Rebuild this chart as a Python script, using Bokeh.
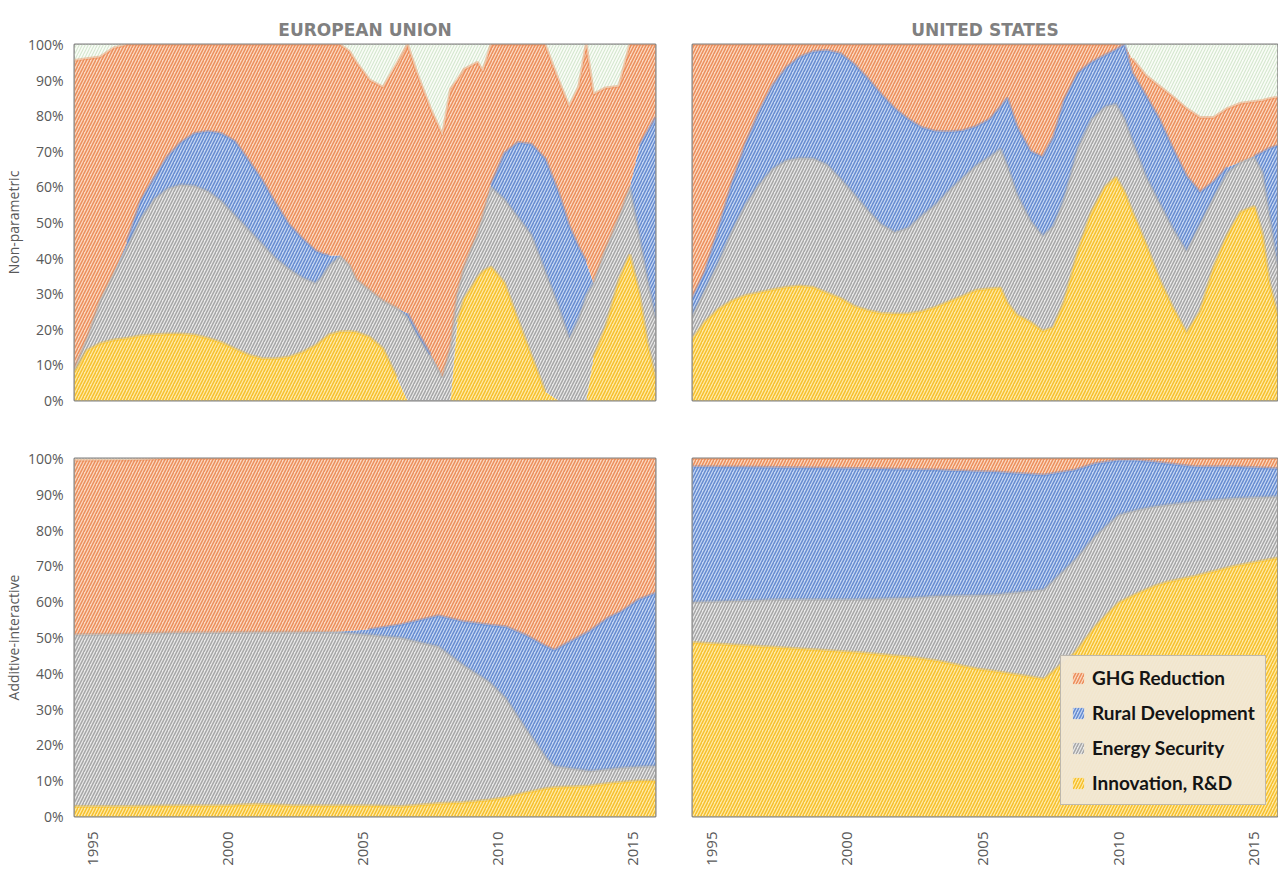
import math
import numpy as np
from bokeh.plotting import figure
from bokeh.layouts import gridplot
from bokeh.models import Range1d, FixedTicker, PrintfTickFormatter, Legend, LegendItem
from bokeh.embed import file_html
from bokeh.resources import INLINE

# ---------------- data (shares in %) ----------------
series_names = ["Innovation, R&D", "Energy Security", "Rural Development", "GHG Reduction"]
x_ticks = [1995, 2000, 2005, 2010, 2015]
y_ticks = [0, 10, 20, 30, 40, 50, 60, 70, 80, 90, 100]

# European Union - Non-parametric
eu_np_years = [1994.3, 1994.75, 1995.25, 1995.75, 1996.25, 1996.75, 1997.25, 1997.75, 1998.25, 1998.75,
               1999.25, 1999.75, 2000.25, 2000.75, 2001.25, 2001.75, 2002.25, 2002.75, 2003.25, 2003.5,
               2003.75, 2004.15, 2004.5, 2004.75, 2005.25, 2005.75, 2006.25, 2006.65, 2007.0, 2007.5,
               2007.95, 2008.25, 2008.5, 2008.75, 2009.25, 2009.45, 2009.75, 2010.25, 2010.75, 2011.25,
               2011.75, 2012.25, 2012.65, 2013.0, 2013.28, 2013.55, 2014.0, 2014.5, 2014.9, 2015.25,
               2015.55, 2015.85]
eu_np_innovation = [8, 14, 16, 17, 17.5, 18.2, 18.5, 18.7, 18.7, 18.4,
                    17.5, 16.3, 14.5, 12.8, 11.8, 11.7, 12.2, 13.5, 15.5, 17,
                    18.5, 19.3, 19.4, 19.2, 17.8, 14.5, 6.5, 0, 0, 0,
                    0, 0, 22, 28.5, 34.5, 36.3, 37.5, 33, 22.5, 12.5,
                    2.5, 0, 0, 0, 0, 12, 20.5, 34, 41, 30,
                    16, 6]
eu_np_energy = [1, 3, 12, 18.5, 25.5, 32.8, 38, 40.8, 41.9, 41.9,
                41.3, 39.7, 37.5, 35.2, 32.2, 28.3, 24.8, 21, 17.5, 18,
                19.5, 21.2, 18.6, 14.8, 13.2, 13.5, 19.5, 23.5, 18.5, 12.5,
                6.5, 15, 8, 9, 12.5, 15.7, 22.5, 23.5, 29, 34,
                34, 26.5, 17.5, 23, 29.5, 21, 22, 17.5, 19, 16,
                18, 17]
eu_np_rural = [0, 0, 0, 0, 1.5, 5, 6, 9, 11.9, 14.7,
               16.8, 19, 20.8, 19.5, 18, 15.5, 12.5, 11, 9, 6.2,
               2.7, 0.2, 0, 0, 0, 0, 0, 1, 1, 0.5,
               0, 0, 0, 0, 0, 0, 0.5, 13, 21, 25.5,
               31.5, 32, 31.5, 20, 9.5, 0, 0, 0, 0, 25.5,
               41.5, 56.5]
eu_np_ghg = [86.5, 79, 68.5, 63.5, 55.5, 44, 37.5, 31.5, 27.5, 25,
             24.4, 25, 27.2, 32.5, 38, 44.5, 50.5, 54.5, 58, 58.8,
             59.3, 59.3, 60, 61, 59, 60, 68.5, 75.5, 72.5, 69,
             68, 72.5, 60, 55.5, 48, 40.5, 39.5, 30.5, 27.5, 28,
             32, 31.5, 33.5, 45, 61, 53, 45.3, 36.8, 40, 28.5,
             24.5, 20.5]

# United States - Non-parametric
us_np_years = [1994.3, 1994.75, 1995.25, 1995.75, 1996.25, 1996.75, 1997.25, 1997.75, 1998.25, 1998.75,
               1999.25, 1999.75, 2000.25, 2000.75, 2001.25, 2001.75, 2002.25, 2002.75, 2003.25, 2003.75,
               2004.25, 2004.75, 2005.25, 2005.65, 2005.9, 2006.25, 2006.75, 2007.2, 2007.6, 2008.0,
               2008.5, 2009.0, 2009.5, 2009.9, 2010.22, 2010.5, 2011.0, 2011.5, 2012.0, 2012.5,
               2013.0, 2013.5, 2014.0, 2014.5, 2015.0, 2015.3, 2015.55, 2015.85]
us_np_innovation = [17.3, 22, 25.6, 28, 29.5, 30.3, 31.1, 31.8, 32.2, 31.8,
                    30.2, 28.7, 26.5, 25.3, 24.5, 24.3, 24.4, 25, 26.2, 27.8,
                    29.3, 31, 31.4, 31.6, 27.3, 24, 22, 19.5, 20.5, 28,
                    42, 53, 60, 62.7, 58.5, 53, 44, 34, 26, 19,
                    25, 37.5, 46.5, 53, 54.5, 46.5, 33, 24]
us_np_energy = [6.6, 9, 13.2, 19.5, 25.5, 30.4, 33.9, 35.6, 35.9, 36.2,
                36.1, 33.6, 31.5, 28.2, 25, 23, 24.1, 27, 28.8, 31.2,
                33.2, 35, 37.1, 39.1, 38.7, 34, 28.5, 26.8, 28.5, 29,
                29, 26, 22.5, 20.6, 20.5, 20, 19, 21.5, 22.2, 23,
                24.5, 19.5, 17.5, 14, 13.8, 17.5, 19, 14]
us_np_rural = [4.7, 5, 9.2, 13.5, 17, 20.3, 23.5, 26.1, 28.4, 30,
               32, 35.2, 36.5, 37, 36.5, 34.7, 30.5, 24.7, 20.6, 16.5,
               13.3, 11, 10.5, 11.8, 19, 19, 19.5, 22.1, 25, 27.5,
               21, 16, 14.5, 15.2, 21, 19, 22.7, 23.5, 22.5, 21,
               9, 4.5, 1.5, 0, 0.3, 5.8, 18.8, 33.6]
us_np_ghg = [71.4, 64, 52, 39, 28, 19, 11.5, 6.5, 3.5, 2,
             1.7, 2.5, 5.5, 9.5, 14, 18, 21, 23.3, 24.4, 24.5,
             24.2, 23, 21, 17.5, 15, 23, 30, 31.6, 26, 15.5,
             8, 5, 3, 1.5, 0, 4, 5.6, 9.3, 14.6, 19,
             21, 18, 16.5, 16.5, 15.4, 14.5, 14, 13.6]

# European Union - Additive-interactive
eu_ai_years = [1994.3, 1996.3, 1998.0, 2000.0, 2001.0, 2002.5, 2004.0, 2005.2, 2006.4, 2007.8,
               2008.7, 2009.7, 2010.3, 2011.0, 2011.8, 2012.1, 2013.4, 2014.1, 2014.6, 2015.2, 2015.85]
eu_ai_innovation = [2.8, 2.8, 3.0, 3.1, 3.4, 3.0, 3.0, 3.0, 2.8, 3.6,
                    3.9, 4.6, 5.3, 6.6, 7.8, 8.1, 8.5, 9.2, 9.6, 9.9, 9.9]
eu_ai_energy = [48, 48.2, 48.3, 48.3, 48.1, 48.5, 48.5, 47.8, 47.1, 43.9,
                38.5, 32.9, 27.7, 18.4, 8.6, 6, 4.2, 4, 4, 4, 4.2]
eu_ai_rural = [0, 0, 0, 0, 0, 0, 0.1, 1.4, 3.7, 8.6,
               12.1, 16, 20, 25.8, 31.1, 32.4, 39, 42.3, 43.7, 46.6, 48.3]
eu_ai_ghg = [48.7, 48.6, 48.7, 48.6, 48.5, 48.5, 48.4, 47.8, 46.4, 43.9,
             45.5, 46.5, 47, 49.2, 52.5, 53.5, 48.3, 44.5, 42.7, 39.5, 37.6]

# United States - Additive-interactive
us_ai_years = [1994.3, 1997.5, 2000.4, 2002.45, 2003.3, 2004.8, 2005.5, 2007.25, 2008.4, 2009.15,
               2010.0, 2010.6, 2011.33, 2011.8, 2012.8, 2014.24, 2015.85]
us_ai_innovation = [48.6, 47.2, 45.8, 44.4, 43.5, 41.2, 40.5, 38.4, 45.8, 53.2,
                    59.7, 62, 64.4, 65.5, 67.1, 69.9, 72.2]
us_ai_energy = [11.3, 13.4, 14.8, 16.7, 18.1, 20.6, 21.5, 25, 26, 25.3,
                24.5, 23.5, 22.2, 21.6, 20.9, 19, 17.2]
us_ai_rural = [37.8, 36.9, 36.6, 35.8, 35.2, 34.6, 34.2, 32, 25, 20.1,
               15.3, 14, 12.4, 11.5, 9.7, 8.8, 7.8]
us_ai_ghg = [2.3, 2.5, 2.8, 3.1, 3.2, 3.6, 3.8, 4.6, 3.2, 1.4,
             0.5, 0.5, 1, 1.4, 2.3, 2.3, 2.8]

# ---------------- styling ----------------
FILLS = ["#ffeaa8", "#e9e9e9", "#c6d7f3", "#fbd9c2"]
HATCHES = ["#f5bb1f", "#9e9e9e", "#5b83cc", "#ea8650"]
FONT = "Open Sans"
GRAY_TXT = "#595959"


def make_fig(width, height, left, right, top, bottom, title=None, ylabel=None, show_x=False, show_y=True):
    p = figure(width=width, height=height, output_backend="svg", toolbar_location=None,
               x_range=Range1d(1994.3, 2015.85), y_range=Range1d(0, 100),
               min_border_left=left, min_border_right=right,
               min_border_top=top, min_border_bottom=bottom)
    p.grid.visible = False
    p.outline_line_color = "#7f7f7f"
    p.outline_line_width = 2
    p.background_fill_color = "white"
    p.border_fill_color = "white"
    if title:
        p.title.text = title
        p.title.align = "center"
        p.title.text_font = "DejaVu Sans"
        p.title.text_font_style = "bold"
        p.title.text_font_size = "17px"
        p.title.text_color = "#808080"
        p.title.standoff = 10
    if show_y:
        p.yaxis.ticker = FixedTicker(ticks=y_ticks)
        p.yaxis.formatter = PrintfTickFormatter(format="%d%%")
        p.yaxis.major_label_text_font = FONT
        p.yaxis.major_label_text_font_size = "14px"
        p.yaxis.major_label_text_color = GRAY_TXT
        p.yaxis.axis_line_color = None
        p.yaxis.major_tick_line_color = None
        p.yaxis.minor_tick_line_color = None
        p.yaxis.major_label_standoff = 5
        p.yaxis.axis_label = ylabel
        p.yaxis.axis_label_text_font = FONT
        p.yaxis.axis_label_text_font_style = "normal"
        p.yaxis.axis_label_text_font_size = "14px"
        p.yaxis.axis_label_text_color = GRAY_TXT
        p.yaxis.axis_label_standoff = 2
    else:
        p.yaxis.visible = False
    if show_x:
        p.xaxis.ticker = FixedTicker(ticks=x_ticks)
        p.xaxis.major_label_orientation = math.pi / 2
        p.xaxis.major_label_text_font = FONT
        p.xaxis.major_label_text_font_size = "15px"
        p.xaxis.major_label_text_color = GRAY_TXT
        p.xaxis.axis_line_color = None
        p.xaxis.major_tick_line_color = None
        p.xaxis.minor_tick_line_color = None
        p.xaxis.major_label_standoff = 9
    else:
        p.xaxis.visible = False
    return p


def draw_stack(p, years, series):
    x = np.array(years, dtype=float)
    base = np.zeros(len(x))
    rends = []
    tops = []
    for i, vals in enumerate(series):
        v = np.array(vals, dtype=float)
        top = base + v
        r = p.varea(x=x, y1=base, y2=top, fill_color=FILLS[i], fill_alpha=1.0,
                    hatch_pattern="/", hatch_color=HATCHES[i], hatch_alpha=0.9,
                    hatch_scale=6, hatch_weight=1.5)
        rends.append(r)
        tops.append((top.copy(), v))
        base = top
    # remaining (unallocated) share up to 100 %
    p.varea(x=x, y1=base, y2=np.full(len(x), 100.0), fill_color="#fafdf8",
            hatch_pattern="/", hatch_color="#d3e5cc", hatch_alpha=0.9,
            hatch_scale=6, hatch_weight=1.2)
    # soft edge glow along each layer top
    for i, (top, v) in enumerate(tops):
        y = top.copy()
        y[v < 0.3] = np.nan
        p.line(x, y, line_color=HATCHES[i], line_width=3, line_alpha=0.4)
    return rends


p1 = make_fig(672, 430, 72, 17, 44, 30, title="EUROPEAN UNION", ylabel="Non-parametric")
draw_stack(p1, eu_np_years, [eu_np_innovation, eu_np_energy, eu_np_rural, eu_np_ghg])

p2 = make_fig(606, 430, 20, 1, 44, 30, title="UNITED STATES", show_y=False)
draw_stack(p2, us_np_years, [us_np_innovation, us_np_energy, us_np_rural, us_np_ghg])

p3 = make_fig(672, 442, 72, 17, 28, 56, ylabel="Additive-interactive", show_x=True)
draw_stack(p3, eu_ai_years, [eu_ai_innovation, eu_ai_energy, eu_ai_rural, eu_ai_ghg])

p4 = make_fig(606, 442, 20, 1, 28, 56, show_x=True, show_y=False)
r4 = draw_stack(p4, us_ai_years, [us_ai_innovation, us_ai_energy, us_ai_rural, us_ai_ghg])

items = [LegendItem(label=series_names[i], renderers=[r4[i]]) for i in [3, 2, 1, 0]]
legend = Legend(items=items, location=(368, 11), orientation="vertical",
                label_text_font="Lato", label_text_font_style="bold",
                label_text_font_size="19px", label_text_color="#141414",
                glyph_width=14, glyph_height=14, label_height=22, label_standoff=7,
                spacing=12, padding=10, margin=0,
                border_line_color="#8a8a8a", border_line_width=1.5,
                background_fill_color="#f1e8d6", background_fill_alpha=0.95)
p4.add_layout(legend)

grid = gridplot([[p1, p2], [p3, p4]], toolbar_location=None)

open("out.html", "w").write(file_html(grid, INLINE))
